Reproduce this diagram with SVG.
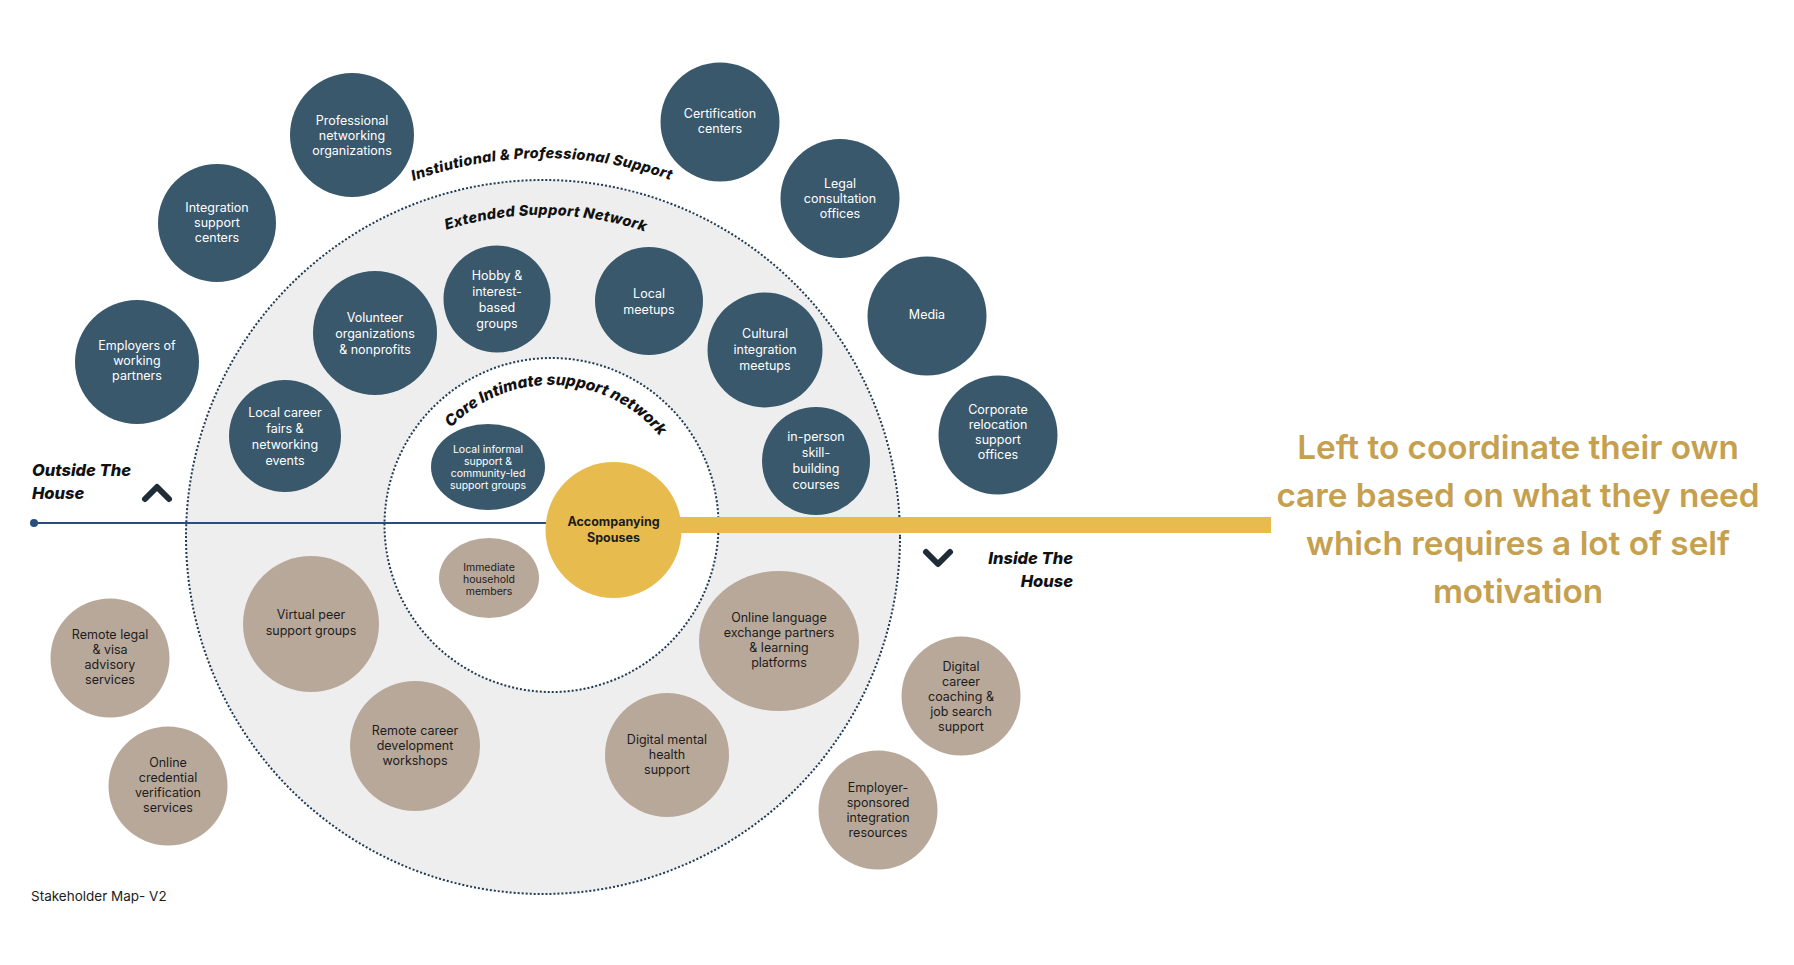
<svg xmlns="http://www.w3.org/2000/svg" width="1794" height="965" viewBox="0 0 1794 965">
<style>
.nb{fill:#39586c}
.nt{fill:#b8a89a}
.tw{fill:#ffffff;font-family:Inter,"Liberation Sans",sans-serif;font-size:12.5px;text-anchor:middle}
.td{fill:#1c1c1c;font-family:Inter,"Liberation Sans",sans-serif;font-size:12.5px;text-anchor:middle}
.sm{font-size:10.5px}
.hd{fill:#111;font-family:Inter,"Open Sans",sans-serif;font-weight:800;font-style:italic}
.ring{stroke:#1f3a52;stroke-width:2;stroke-dasharray:2 2}
.chev{fill:none;stroke:#1e2d38;stroke-width:6;stroke-linecap:round;stroke-linejoin:round}
</style>
<defs>
<path id="arcInst" d="M 413.4 180.9 A 379 379 0 0 1 669.5 179.8"/>
<path id="arcExt" d="M 446.2 229.9 A 322 322 0 0 1 645.2 231.7"/>
<path id="arcCore" d="M 450.8 427.7 A 140 140 0 0 1 660.3 436.9"/>
</defs>
<rect width="1794" height="965" fill="#ffffff"/>

<g id="rings">
<circle class="ring" cx="543" cy="537" r="357" fill="#eeeeee"/>
<circle class="ring" cx="551.5" cy="525" r="167" fill="#ffffff"/>
</g>

<g id="connectors">
<line x1="34" y1="523" x2="560" y2="523" stroke="#2a4e7c" stroke-width="2"/>
<circle cx="34" cy="523" r="4" fill="#2a4e7c"/>
<rect x="660" y="517" width="611" height="16" fill="#e8bb4f"/>
</g>

<g id="labels">
<text class="hd" font-size="14.5"><textPath href="#arcInst" textLength="262" lengthAdjust="spacing">Instiutional &amp; Professional  Support</textPath></text>
<text class="hd" font-size="14.5"><textPath href="#arcExt" textLength="202" lengthAdjust="spacing">Extended Support Network</textPath></text>
<text class="hd" font-size="15.5"><textPath href="#arcCore" textLength="236" lengthAdjust="spacing">Core Intimate support network</textPath></text>
<text class="hd" font-size="16.5" x="32" y="476">Outside The</text>
<text class="hd" font-size="16.5" x="32" y="499">House</text>
<polyline class="chev" points="145,499 157,487 169,499"/>
<text class="hd" font-size="16.5" x="1073" y="564" text-anchor="end">Inside The</text>
<text class="hd" font-size="16.5" x="1073" y="587" text-anchor="end">House</text>
<polyline class="chev" points="926,552 938,564 950,552"/>
<text x="31" y="901" font-family="Inter,'Liberation Sans',sans-serif" font-size="13.5" fill="#1c1c1c">Stakeholder Map- V2</text>
<g font-family="Inter,'Liberation Sans',sans-serif" font-weight="600" font-size="33.3" fill="#c5a04e" text-anchor="middle">
<text x="1518" y="459">Left to coordinate their own</text>
<text x="1518" y="507">care based on what they need</text>
<text x="1518" y="555">which requires a lot of self</text>
<text x="1518" y="603">motivation</text>
</g>
</g>

<g id="node-professional"><circle class="nb" cx="352" cy="135" r="62"/><text class="tw"><tspan x="352" y="124.5">Professional</tspan><tspan x="352" y="139.5">networking</tspan><tspan x="352" y="154.5">organizations</tspan></text></g>
<g id="node-integration"><circle class="nb" cx="217" cy="223" r="59"/><text class="tw"><tspan x="217" y="211.5">Integration</tspan><tspan x="217" y="226.5">support</tspan><tspan x="217" y="241.5">centers</tspan></text></g>
<g id="node-employers"><circle class="nb" cx="137" cy="362" r="62"/><text class="tw"><tspan x="137" y="350">Employers of</tspan><tspan x="137" y="365">working</tspan><tspan x="137" y="380">partners</tspan></text></g>
<g id="node-certification"><circle class="nb" cx="720" cy="122" r="59.5"/><text class="tw"><tspan x="720" y="117.5">Certification</tspan><tspan x="720" y="132.5">centers</tspan></text></g>
<g id="node-legal"><circle class="nb" cx="840" cy="198.5" r="59.5"/><text class="tw"><tspan x="840" y="187.5">Legal</tspan><tspan x="840" y="202.5">consultation</tspan><tspan x="840" y="217.5">offices</tspan></text></g>
<g id="node-media"><circle class="nb" cx="927" cy="316" r="59.5"/><text class="tw"><tspan x="927" y="318.5">Media</tspan></text></g>
<g id="node-corporate"><circle class="nb" cx="998" cy="435" r="59.5"/><text class="tw"><tspan x="998" y="414">Corporate</tspan><tspan x="998" y="429">relocation</tspan><tspan x="998" y="444">support</tspan><tspan x="998" y="459">offices</tspan></text></g>

<g id="node-volunteer"><circle class="nb" cx="375" cy="333" r="62"/><text class="tw"><tspan x="375" y="321.5">Volunteer</tspan><tspan x="375" y="337.5">organizations</tspan><tspan x="375" y="353.5">&amp; nonprofits</tspan></text></g>
<g id="node-hobby"><circle class="nb" cx="497" cy="299" r="53.5"/><text class="tw"><tspan x="497" y="279.5">Hobby &amp;</tspan><tspan x="497" y="295.5">interest-</tspan><tspan x="497" y="311.5">based</tspan><tspan x="497" y="327.5">groups</tspan></text></g>
<g id="node-meetups"><circle class="nb" cx="649" cy="301" r="54"/><text class="tw"><tspan x="649" y="297.5">Local</tspan><tspan x="649" y="313.5">meetups</tspan></text></g>
<g id="node-cultural"><circle class="nb" cx="765" cy="350" r="57.5"/><text class="tw"><tspan x="765" y="338">Cultural</tspan><tspan x="765" y="354">integration</tspan><tspan x="765" y="370">meetups</tspan></text></g>
<g id="node-inperson"><circle class="nb" cx="816" cy="461" r="54"/><text class="tw"><tspan x="816" y="441">in-person</tspan><tspan x="816" y="457">skill-</tspan><tspan x="816" y="473">building</tspan><tspan x="816" y="489">courses</tspan></text></g>
<g id="node-careerfairs"><circle class="nb" cx="285" cy="436" r="56"/><text class="tw"><tspan x="285" y="416.5">Local career</tspan><tspan x="285" y="432.5">fairs &amp;</tspan><tspan x="285" y="448.5">networking</tspan><tspan x="285" y="464.5">events</tspan></text></g>

<g id="node-localinformal"><ellipse class="nb" cx="488" cy="467" rx="57" ry="43"/><text class="tw sm"><tspan x="488" y="452.5">Local informal</tspan><tspan x="488" y="464.5">support &amp;</tspan><tspan x="488" y="476.5">community-led</tspan><tspan x="488" y="488.5">support groups</tspan></text></g>
<g id="node-household"><ellipse class="nt" cx="489" cy="578" rx="50" ry="40"/><text class="td sm"><tspan x="489" y="571">Immediate</tspan><tspan x="489" y="583">household</tspan><tspan x="489" y="595">members</tspan></text></g>
<g id="node-spouses"><circle cx="613.5" cy="530" r="68" fill="#e8bb4f"/><text class="td" font-weight="700" font-size="13"><tspan x="613.5" y="526">Accompanying</tspan><tspan x="613.5" y="542">Spouses</tspan></text></g>

<g id="node-virtualpeer"><circle class="nt" cx="311" cy="624" r="68"/><text class="td"><tspan x="311" y="618.5">Virtual peer</tspan><tspan x="311" y="634.5">support groups</tspan></text></g>
<g id="node-remotecareer"><circle class="nt" cx="415" cy="746" r="65"/><text class="td"><tspan x="415" y="734.5">Remote career</tspan><tspan x="415" y="749.5">development</tspan><tspan x="415" y="764.5">workshops</tspan></text></g>
<g id="node-mentalhealth"><circle class="nt" cx="667" cy="755" r="62"/><text class="td"><tspan x="667" y="743.5">Digital mental</tspan><tspan x="667" y="758.5">health</tspan><tspan x="667" y="773.5">support</tspan></text></g>
<g id="node-language"><ellipse class="nt" cx="779" cy="641" rx="80" ry="70"/><text class="td"><tspan x="779" y="621.5">Online language</tspan><tspan x="779" y="636.5">exchange partners</tspan><tspan x="779" y="651.5">&amp; learning</tspan><tspan x="779" y="666.5">platforms</tspan></text></g>
<g id="node-remotelegal"><circle class="nt" cx="110" cy="658" r="59.5"/><text class="td"><tspan x="110" y="638.5">Remote legal</tspan><tspan x="110" y="653.5">&amp; visa</tspan><tspan x="110" y="668.5">advisory</tspan><tspan x="110" y="683.5">services</tspan></text></g>
<g id="node-credential"><circle class="nt" cx="168" cy="786" r="59.5"/><text class="td"><tspan x="168" y="766.5">Online</tspan><tspan x="168" y="781.5">credential</tspan><tspan x="168" y="796.5">verification</tspan><tspan x="168" y="811.5">services</tspan></text></g>
<g id="node-careercoaching"><circle class="nt" cx="961" cy="696" r="59.5"/><text class="td"><tspan x="961" y="670.5">Digital</tspan><tspan x="961" y="685.5">career</tspan><tspan x="961" y="700.5">coaching &amp;</tspan><tspan x="961" y="715.5">job search</tspan><tspan x="961" y="730.5">support</tspan></text></g>
<g id="node-employersponsored"><circle class="nt" cx="878" cy="810" r="59.5"/><text class="td"><tspan x="878" y="792">Employer-</tspan><tspan x="878" y="807">sponsored</tspan><tspan x="878" y="822">integration</tspan><tspan x="878" y="837">resources</tspan></text></g>
</svg>
